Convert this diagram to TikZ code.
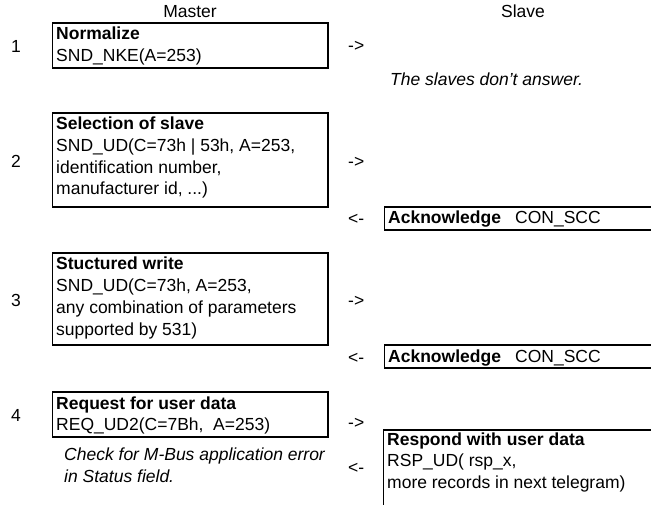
\documentclass[tikz,border=0pt]{standalone}
\usepackage{fontspec}
\setmainfont{Liberation Sans}
\begin{document}
\begin{tikzpicture}[x=1pt,y=-1pt,
  txt/.style={anchor=base west, inner sep=0pt, font=\fontsize{17.5}{21}\selectfont},
  ctr/.style={anchor=base, inner sep=0pt, font=\fontsize{17.5}{21}\selectfont},
  bold/.style={txt, font=\fontsize{17.5}{21}\selectfont\bfseries},
  ital/.style={txt, font=\fontsize{17.5}{21}\selectfont\itshape},
  thinedge/.style={line width=1pt},
  thickedge/.style={line width=2.2pt, line join=miter}]
\useasboundingbox (0,0) rectangle (651,505);
% headers
\node[ctr] (hm) at (190,17.5) {Master};
\node[ctr] (hs) at (523,17.5) {Slave};
% row numbers
\node[ctr] (n1) at (16,52.5) {1};
\node[ctr] (n2) at (16,168) {2};
\node[ctr] (n3) at (16,307) {3};
\node[ctr] (n4) at (16,421) {4};
% master boxes
\draw[thinedge] (52,68) -- (52,23);
\draw[thickedge] (52,23) -- (328,23) -- (328,68) -- (52,68);
\node[bold] (b1a) at (56,40) {Normalize};
\node[txt] (b1b) at (56,61.7) {SND\_NKE(A=253)};
\node[txt] (a1) at (348,52) {->};
\node[ital] (c1) at (390,86) {The slaves don't answer.};
%
\draw[thinedge] (52,207) -- (52,113);
\draw[thickedge] (52,113) -- (328,113) -- (328,207) -- (52,207);
\node[bold] (b2a) at (56,130) {Selection of slave};
\node[txt] (b2b) at (56,151.7) {SND\_UD(C=73h | 53h, A=253,};
\node[txt] (b2c) at (56,173.4) {identification number,};
\node[txt] (b2d) at (56,195) {manufacturer id, ...)};
\node[txt] (a2) at (348,168) {->};
% ack 1
\draw[thinedge] (384,230) -- (384,207);
\draw[thickedge] (651,207) -- (384,207);
\draw[thickedge] (384,230) -- (651,230);
\node[txt] (r2) at (348,225) {<-};
\node[bold] (k1a) at (388,224) {Acknowledge};
\node[txt] (k1b) at (515,224) {CON\_SCC};
%
\draw[thinedge] (52,345) -- (52,253);
\draw[thickedge] (52,253) -- (328,253) -- (328,345) -- (52,345);
\node[bold] (b3a) at (56,270) {Stuctured write};
\node[txt] (b3b) at (56,291.7) {SND\_UD(C=73h, A=253,};
\node[txt] (b3c) at (56,313.4) {any combination of parameters};
\node[txt] (b3d) at (56,335) {supported by 531)};
\node[txt] (a3) at (348,307) {->};
% ack 2
\draw[thinedge] (384,368) -- (384,345);
\draw[thickedge] (651,345) -- (384,345);
\draw[thickedge] (384,368) -- (651,368);
\node[txt] (r3) at (348,363) {<-};
\node[bold] (k2a) at (388,362) {Acknowledge};
\node[txt] (k2b) at (515,362) {CON\_SCC};
%
\draw[thinedge] (52,437) -- (52,392);
\draw[thickedge] (52,392) -- (328,392) -- (328,437) -- (52,437);
\node[bold] (b4a) at (56,409) {Request for user data};
\node[txt] (b4b) at (56,430.7) {REQ\_UD2(C=7Bh,\ \ A=253)};
\node[txt] (a4) at (348,428) {->};
% respond
\draw[thinedge] (383,505) -- (383,430);
\draw[thickedge] (383,430) -- (651,430);
\node[bold] (p1) at (387,445) {Respond with user data};
\node[txt] (p2) at (387,466.5) {RSP\_UD( rsp\_x,};
\node[txt] (p3) at (387,488) {more records in next telegram)};
\node[txt] (r4) at (348,473) {<-};
\node[ital] (ck1) at (64,460) {Check for M-Bus application error};
\node[ital] (ck2) at (64,482) {in Status field.};
\end{tikzpicture}
\end{document}
